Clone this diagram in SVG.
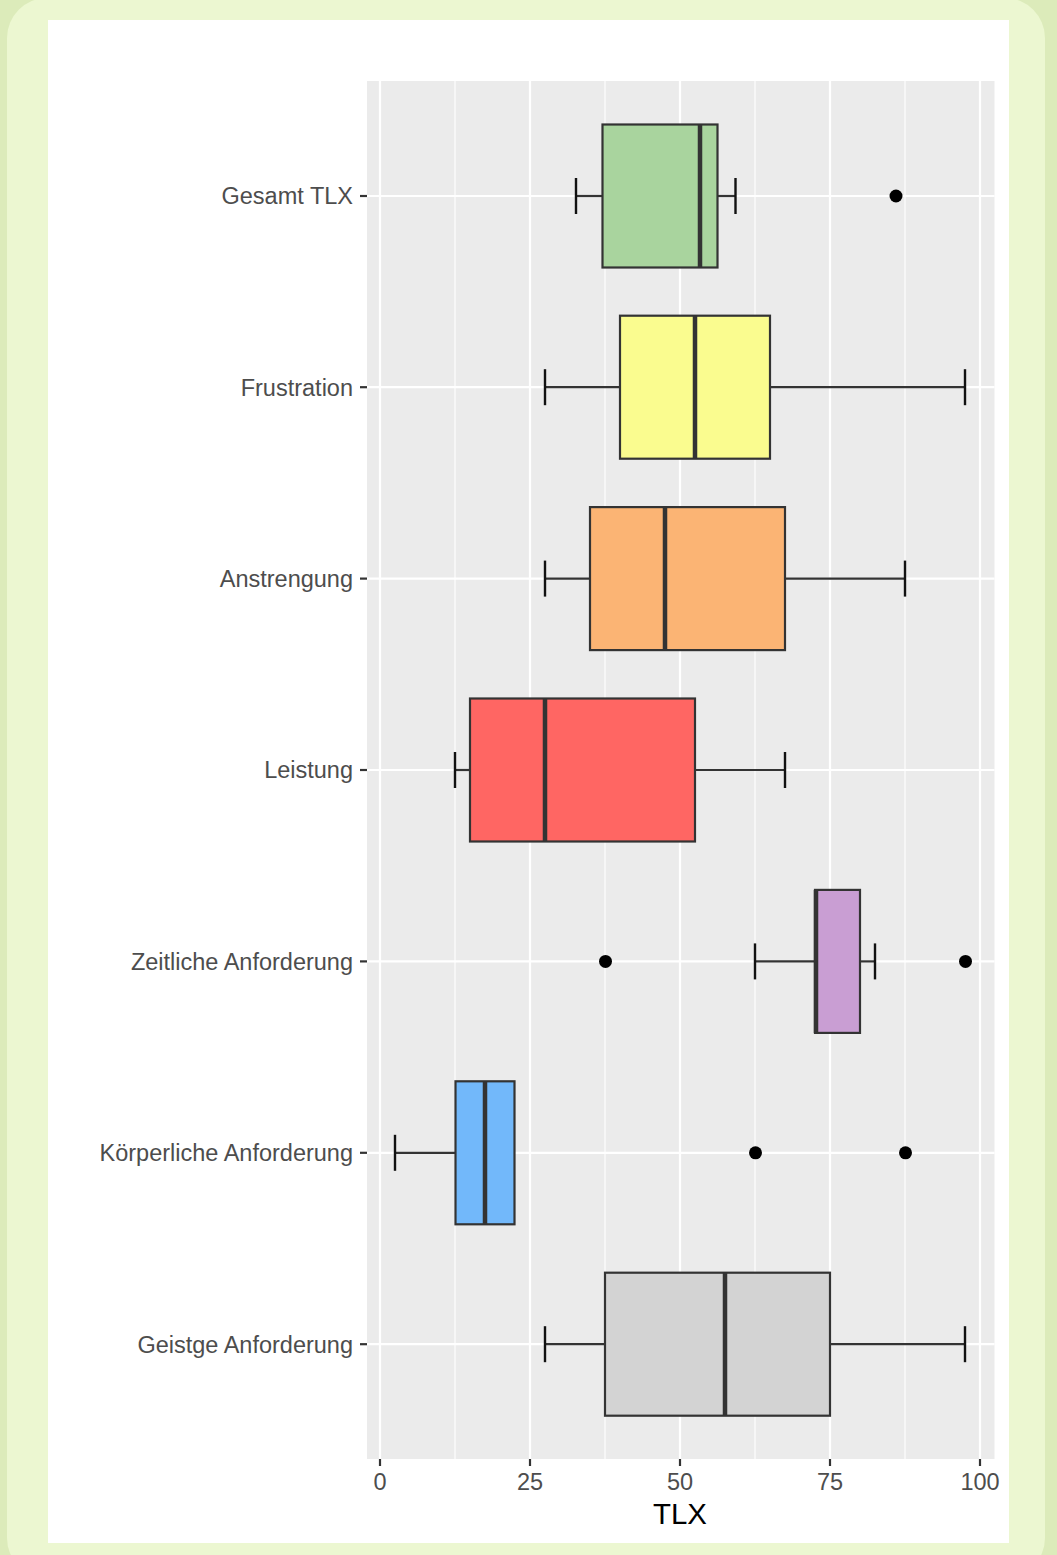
<svg xmlns="http://www.w3.org/2000/svg" width="1057" height="1555" viewBox="0 0 1057 1555">
<style>
.ylab{font-family:"Liberation Sans",Arial,sans-serif;font-size:23.5px;fill:#4D4D4D;text-anchor:end}
.xlab{font-family:"Liberation Sans",Arial,sans-serif;font-size:23.5px;fill:#4D4D4D;text-anchor:middle}
.title{font-family:"Liberation Sans",Arial,sans-serif;font-size:29.4px;fill:#000;text-anchor:middle}
.gmaj{stroke:#fff;stroke-width:2.2}
.gmin{stroke:#fff;stroke-width:1.1}
.tick{stroke:#333;stroke-width:2.2}
.box{stroke:#333;stroke-width:2.2}
.med{stroke:#333;stroke-width:4.5}
.wh{stroke:#333;stroke-width:2.2}
.cap{stroke:#111;stroke-width:2.4}
.out{fill:#000}
</style>
<rect x="0" y="0" width="1057" height="1555" fill="#DCEBBA"/>
<rect x="7" y="-2" width="1038" height="1580" rx="40" ry="40" fill="#ECF7D1"/>
<rect x="48" y="20" width="961" height="1523" fill="#FFFFFF"/>
<g id="panel">
<rect x="367" y="81" width="627.5" height="1378" fill="#EBEBEB"/>
<line class="gmin" x1="455" y1="81" x2="455" y2="1459"/>
<line class="gmin" x1="605" y1="81" x2="605" y2="1459"/>
<line class="gmin" x1="755" y1="81" x2="755" y2="1459"/>
<line class="gmin" x1="905" y1="81" x2="905" y2="1459"/>
<line class="gmaj" x1="380" y1="81" x2="380" y2="1459"/>
<line class="gmaj" x1="530" y1="81" x2="530" y2="1459"/>
<line class="gmaj" x1="680" y1="81" x2="680" y2="1459"/>
<line class="gmaj" x1="830" y1="81" x2="830" y2="1459"/>
<line class="gmaj" x1="980" y1="81" x2="980" y2="1459"/>
<line class="gmaj" x1="367" y1="196" x2="994.5" y2="196"/>
<line class="gmaj" x1="367" y1="387.2" x2="994.5" y2="387.2"/>
<line class="gmaj" x1="367" y1="578.6" x2="994.5" y2="578.6"/>
<line class="gmaj" x1="367" y1="770" x2="994.5" y2="770"/>
<line class="gmaj" x1="367" y1="961.4" x2="994.5" y2="961.4"/>
<line class="gmaj" x1="367" y1="1152.8" x2="994.5" y2="1152.8"/>
<line class="gmaj" x1="367" y1="1344.2" x2="994.5" y2="1344.2"/>
</g>
<g id="axes">
<line class="tick" x1="360" y1="196" x2="367" y2="196"/>
<line class="tick" x1="360" y1="387.2" x2="367" y2="387.2"/>
<line class="tick" x1="360" y1="578.6" x2="367" y2="578.6"/>
<line class="tick" x1="360" y1="770" x2="367" y2="770"/>
<line class="tick" x1="360" y1="961.4" x2="367" y2="961.4"/>
<line class="tick" x1="360" y1="1152.8" x2="367" y2="1152.8"/>
<line class="tick" x1="360" y1="1344.2" x2="367" y2="1344.2"/>
<text class="ylab" x="353" y="204.4">Gesamt TLX</text>
<text class="ylab" x="353" y="395.6">Frustration</text>
<text class="ylab" x="353" y="587">Anstrengung</text>
<text class="ylab" x="353" y="778.4">Leistung</text>
<text class="ylab" x="353" y="969.8">Zeitliche Anforderung</text>
<text class="ylab" x="353" y="1161.2">Körperliche Anforderung</text>
<text class="ylab" x="353" y="1352.6">Geistge Anforderung</text>
<line class="tick" x1="380" y1="1459" x2="380" y2="1466"/>
<line class="tick" x1="530" y1="1459" x2="530" y2="1466"/>
<line class="tick" x1="680" y1="1459" x2="680" y2="1466"/>
<line class="tick" x1="830" y1="1459" x2="830" y2="1466"/>
<line class="tick" x1="980" y1="1459" x2="980" y2="1466"/>
<text class="xlab" x="380" y="1490">0</text>
<text class="xlab" x="530" y="1490">25</text>
<text class="xlab" x="680" y="1490">50</text>
<text class="xlab" x="830" y="1490">75</text>
<text class="xlab" x="980" y="1490">100</text>
<text class="title" x="680" y="1524">TLX</text>
</g>
<g id="connectors">
<line class="wh" x1="576" y1="196" x2="602.5" y2="196"/>
<line class="wh" x1="717.5" y1="196" x2="735.5" y2="196"/>
<line class="wh" x1="545" y1="387.2" x2="620" y2="387.2"/>
<line class="wh" x1="770" y1="387.2" x2="965" y2="387.2"/>
<line class="wh" x1="545" y1="578.6" x2="590" y2="578.6"/>
<line class="wh" x1="785" y1="578.6" x2="905" y2="578.6"/>
<line class="wh" x1="455" y1="770" x2="470" y2="770"/>
<line class="wh" x1="695" y1="770" x2="785" y2="770"/>
<line class="wh" x1="755" y1="961.4" x2="815" y2="961.4"/>
<line class="wh" x1="860" y1="961.4" x2="875" y2="961.4"/>
<line class="wh" x1="395" y1="1152.8" x2="455.5" y2="1152.8"/>
<line class="wh" x1="545" y1="1344.2" x2="605" y2="1344.2"/>
<line class="wh" x1="830" y1="1344.2" x2="965" y2="1344.2"/>
</g>
<g id="gesamt-tlx">
<line class="cap" x1="576" y1="178" x2="576" y2="214"/>
<line class="cap" x1="735.5" y1="178" x2="735.5" y2="214"/>
<rect class="box" x="602.5" y="124.5" width="115" height="143" fill="#A9D49E"/>
<line class="med" x1="700" y1="124.5" x2="700" y2="267.5"/>
<circle class="out" cx="896" cy="196" r="6.5"/>
</g>
<g id="frustration">
<line class="cap" x1="545" y1="369.2" x2="545" y2="405.2"/>
<line class="cap" x1="965" y1="369.2" x2="965" y2="405.2"/>
<rect class="box" x="620" y="315.7" width="150" height="143" fill="#FAFC8F"/>
<line class="med" x1="695" y1="315.7" x2="695" y2="458.7"/>
</g>
<g id="anstrengung">
<line class="cap" x1="545" y1="560.6" x2="545" y2="596.6"/>
<line class="cap" x1="905" y1="560.6" x2="905" y2="596.6"/>
<rect class="box" x="590" y="507.1" width="195" height="143" fill="#FBB474"/>
<line class="med" x1="665" y1="507.1" x2="665" y2="650.1"/>
</g>
<g id="leistung">
<line class="cap" x1="455" y1="752" x2="455" y2="788"/>
<line class="cap" x1="785" y1="752" x2="785" y2="788"/>
<rect class="box" x="470" y="698.5" width="225" height="143" fill="#FF6663"/>
<line class="med" x1="545" y1="698.5" x2="545" y2="841.5"/>
</g>
<g id="zeitliche-anforderung">
<line class="cap" x1="755" y1="943.4" x2="755" y2="979.4"/>
<line class="cap" x1="875" y1="943.4" x2="875" y2="979.4"/>
<rect class="box" x="815" y="889.9" width="45" height="143" fill="#C99ED3"/>
<line class="med" x1="816" y1="889.9" x2="816" y2="1032.9"/>
<circle class="out" cx="605.5" cy="961.4" r="6.5"/>
<circle class="out" cx="965.5" cy="961.4" r="6.5"/>
</g>
<g id="koerperliche-anforderung">
<line class="cap" x1="395" y1="1134.8" x2="395" y2="1170.8"/>
<rect class="box" x="455.5" y="1081.3" width="59" height="143" fill="#72B8FA"/>
<line class="med" x1="485" y1="1081.3" x2="485" y2="1224.3"/>
<circle class="out" cx="755.5" cy="1152.8" r="6.5"/>
<circle class="out" cx="905.5" cy="1152.8" r="6.5"/>
</g>
<g id="geistge-anforderung">
<line class="cap" x1="545" y1="1326.2" x2="545" y2="1362.2"/>
<line class="cap" x1="965" y1="1326.2" x2="965" y2="1362.2"/>
<rect class="box" x="605" y="1272.7" width="225" height="143" fill="#D3D3D3"/>
<line class="med" x1="725" y1="1272.7" x2="725" y2="1415.7"/>
</g>
</svg>
